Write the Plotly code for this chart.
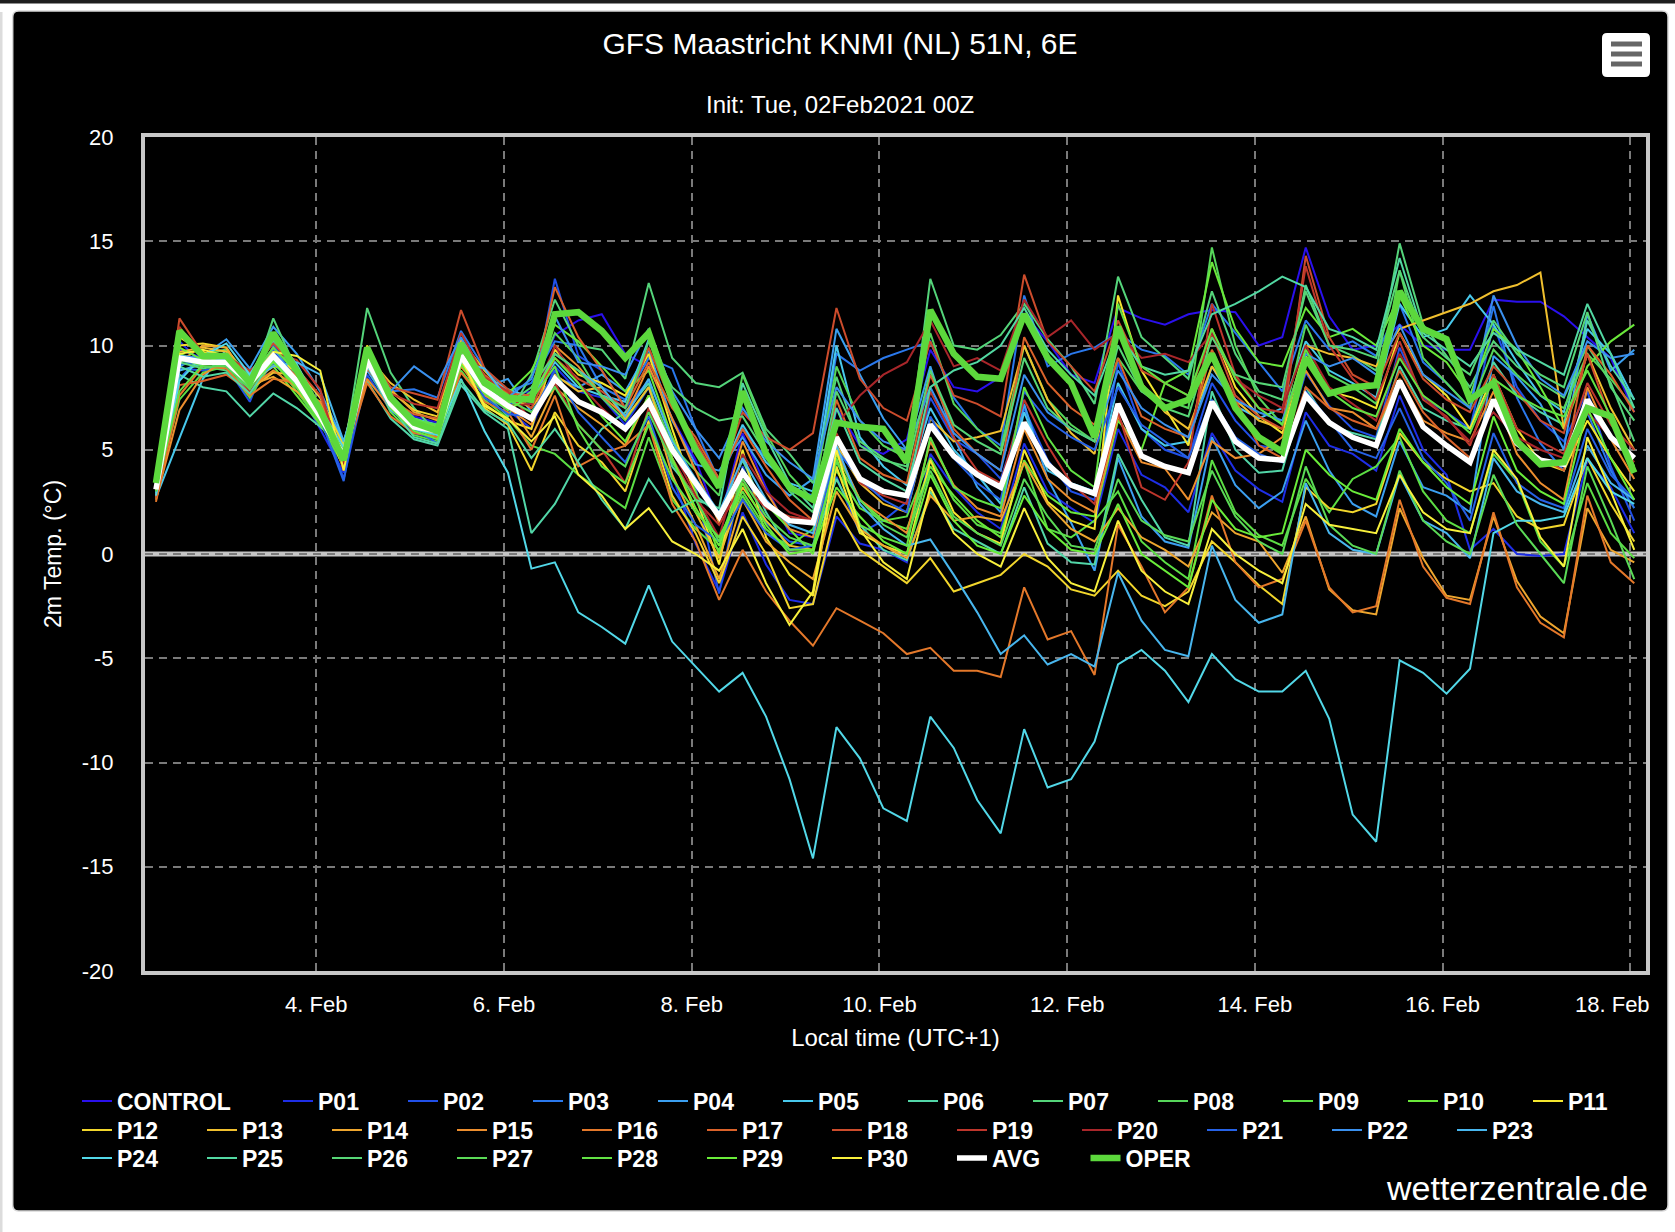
import pandas as pd
import plotly.graph_objects as go

# ---------------- data ----------------
START = "2021-02-02 07:00"
N_STEPS = 64
TICK_DATES = ["2021-02-04", "2021-02-06", "2021-02-08", "2021-02-10",
              "2021-02-12", "2021-02-14", "2021-02-16", "2021-02-18"]
TICK_LABELS = ["4. Feb", "6. Feb", "8. Feb", "10. Feb", "12. Feb", "14. Feb", "16. Feb", "18. Feb"]
Y_TICKS = [-20, -15, -10, -5, 0, 5, 10, 15, 20]
Y_TICK_LABELS = ["-20", "-15", "-10", "-5", "0", "5", "10", "15", "20"]

CONTROL = [3.0, 9.8, 9.4, 9.6, 8.0, 9.8, 8.5, 6.4, 4.3, 9.6, 7.4, 6.6, 6.3, 9.9, 8.3, 7.6,
           7.8, 10.5, 11.2, 11.5, 9.6, 9.0, 6.5, 4.5, 1.5, 5.8, 3.2, 1.0,
           0.8, 7.0, 5.2, 4.8, 5.5, 9.8, 8.0, 7.8, 8.5, 11.5, 10.2, 8.6,
           8.2, 11.8, 11.3, 11.0, 11.5, 11.7, 11.6, 10.0, 10.4, 14.7, 11.4, 9.8,
           10.0, 11.0, 10.0, 9.8, 9.8, 12.2, 12.1, 12.1, 11.4, 10.4, 9.4, 6.8]
P01 = [3.2, 10.2, 9.1, 9.3, 7.6, 9.2, 8.0, 6.0, 3.9, 9.0, 7.0, 5.8, 5.5, 9.2, 7.6, 6.9,
       6.0, 9.0, 7.8, 7.5, 6.2, 8.0, 3.8, 0.5, -1.8, 2.0, -0.5, -2.2,
       -2.4, 1.8, 0.5, 0.2, -0.4, 4.8, 3.2, 2.0, 1.2, 5.3, 3.0, 2.2,
       1.5, 6.0, 3.8, 3.2, 2.0, 5.8, 4.0, 3.1, 2.5, 6.8, 5.2, 4.8,
       4.0, 7.6, 5.0, 3.8, 0.2, 1.2, 0.0, -0.1, 0.0, 4.5, 3.2, 1.0]
P02 = [3.3, 8.9, 8.8, 9.0, 7.3, 10.0, 8.6, 6.8, 3.6, 8.6, 6.9, 6.0, 5.7, 10.3, 8.0, 7.2,
       7.2, 13.2, 9.5, 8.8, 7.0, 8.3, 5.6, 3.2, -1.9, 4.2, 1.5, 0.6,
       0.4, 3.7, 1.0, 1.6, 2.5, 7.5, 5.5, 4.8, 3.6, 7.0, 4.5, 3.0,
       2.6, 9.2, 6.0, 5.0, 4.6, 8.2, 6.4, 5.2, 5.0, 8.7, 7.1, 6.0,
       5.6, 9.9, 7.5, 6.8, 6.0, 11.0, 8.0, 6.4, 5.4, 7.8, 4.2, 1.6]
P03 = [3.0, 8.4, 9.6, 9.5, 8.6, 9.1, 8.2, 7.2, 5.0, 9.5, 7.8, 7.9, 7.5, 10.7, 8.9, 7.8,
       8.2, 10.2, 10.0, 8.0, 7.4, 9.4, 8.9, 6.0, 3.5, 6.0, 4.6, 3.2,
       2.8, 9.6, 8.8, 9.4, 9.8, 10.2, 7.5, 6.0, 5.2, 12.4, 9.0, 9.6,
       9.9, 10.6, 9.8, 9.5, 8.6, 12.0, 10.6, 9.2, 7.8, 11.2, 9.8, 10.2,
       9.5, 12.0, 9.2, 8.2, 7.0, 11.9, 7.5, 5.3, 4.0, 6.8, 4.0, 2.2]
P04 = [2.8, 9.0, 9.5, 10.3, 8.9, 10.9, 9.6, 7.8, 5.4, 8.8, 7.1, 6.3, 6.0, 9.0, 8.0, 8.4,
       6.8, 8.5, 8.0, 8.6, 7.8, 9.8, 6.4, 4.3, 4.0, 5.6, 3.8, 2.8,
       3.6, 10.8, 8.6, 6.5, 5.0, 9.0, 5.6, 3.2, 2.0, 7.2, 3.6, 1.5,
       -0.8, 4.6, 1.8, 0.6, 0.3, 5.6, 3.3, 2.2, 3.0, 6.4, 4.0, 2.4,
       1.8, 5.4, 3.2, 2.8, 2.0, 9.5, 8.5, 7.2, 5.0, 11.5, 8.8, 9.8]
P05 = [2.7, 5.6, 8.4, 9.8, 8.4, 10.2, 8.8, 7.5, 5.3, 9.8, 7.6, 6.5, 6.2, 9.3, 8.5, 7.9,
       7.5, 9.2, 8.0, 7.6, 7.3, 10.3, 7.2, 5.2, 3.6, 6.2, 4.4, 3.4,
       3.0, 10.0, 5.6, 4.2, 3.3, 7.0, 5.0, 3.8, 2.4, 6.8, 4.0, 3.4,
       3.0, 8.2, 6.0, 5.2, 5.4, 9.0, 7.1, 6.5, 7.0, 10.2, 8.8, 8.2,
       7.5, 12.0, 10.4, 10.8, 12.4, 11.0, 9.2, 7.6, 6.8, 10.8, 9.6, 7.4]
P06 = [3.1, 8.6, 8.0, 7.8, 6.6, 7.7, 7.0, 6.1, 5.1, 8.3, 6.5, 5.5, 5.2, 8.1, 6.8, 6.0,
       1.0, 2.4, 4.5, 6.0, 6.8, 8.2, 4.2, 2.8, 1.9, 4.5, 2.0, 0.2,
       0.4, 3.6, 1.4, 0.2, -0.3, 3.0, 1.2, 0.6, 0.0, 3.2, 0.5, -0.4,
       -0.5, 4.8, 2.6, 0.8, 0.4, 7.8, 5.0, 3.9, 4.0, 8.0, 6.2, 5.8,
       5.5, 9.0, 7.0, 6.4, 6.0, 9.2, 7.6, 6.8, 6.2, 11.2, 9.0, 7.4]
P07 = [3.2, 9.3, 9.0, 8.8, 7.9, 11.3, 8.8, 6.8, 4.8, 11.8, 8.7, 7.0, 5.8, 9.8, 7.7, 6.6,
       8.6, 12.2, 10.0, 9.8, 8.4, 13.0, 9.4, 8.2, 8.0, 8.7, 6.0, 4.8,
       3.4, 8.5, 5.2, 4.5, 4.2, 13.2, 10.0, 9.8, 10.5, 12.0, 10.3, 9.0,
       7.2, 13.3, 10.4, 9.4, 8.4, 12.6, 9.6, 7.8, 7.4, 12.9, 10.0, 9.5,
       8.8, 14.9, 11.0, 9.5, 8.0, 10.2, 9.0, 8.2, 7.5, 10.0, 8.2, 5.4]
P08 = [3.4, 10.5, 9.6, 9.8, 8.5, 10.3, 8.4, 6.5, 4.4, 9.7, 7.3, 6.2, 6.0, 9.6, 8.1, 7.0,
       7.8, 10.6, 9.4, 7.5, 6.4, 8.0, 5.2, 4.0, 2.8, 8.6, 5.8, 3.8,
       2.6, 9.0, 6.4, 5.2, 4.6, 10.6, 7.2, 6.0, 5.0, 10.0, 7.4, 6.2,
       5.4, 9.4, 7.8, 7.4, 7.0, 14.7, 10.0, 7.5, 6.2, 11.0, 8.6, 8.0,
       7.2, 13.6, 9.4, 8.2, 7.0, 9.8, 8.6, 7.6, 7.0, 9.6, 8.4, 7.0]
P09 = [3.0, 7.4, 8.7, 9.0, 7.5, 9.3, 7.8, 6.3, 4.2, 9.1, 6.8, 5.7, 5.4, 8.8, 7.4, 6.5,
       5.2, 4.8, 3.8, 3.0, 2.2, 5.6, 2.6, 1.2, 0.2, 2.8, 1.0, 0.4,
       1.2, 4.0, 2.2, 1.6, 1.8, 4.6, 2.6, 1.4, 1.0, 4.4, 1.2, 0.8,
       1.6, 3.0, 0.6, -0.4, -1.2, 4.5, 2.0, 0.9, 0.4, 3.6, 2.0, 3.6,
       4.2, 5.6, 3.0, 1.6, 1.0, 4.8, 3.5, 0.6, -0.6, 3.4, 1.0, -0.2]
P10 = [3.3, 9.6, 9.2, 9.4, 8.3, 9.0, 7.6, 6.2, 4.6, 9.4, 7.1, 6.0, 5.6, 9.6, 8.4, 7.7,
       8.8, 11.0, 10.2, 9.0, 7.8, 8.8, 5.6, 3.0, 0.0, 4.0, 2.4, 1.2,
       0.0, 4.8, 2.6, 1.6, 1.2, 4.2, 2.8, 1.6, 0.8, 4.5, 2.8, 2.0,
       1.8, 6.4, 5.0, 8.2, 8.8, 14.0, 10.8, 9.2, 9.0, 11.8, 10.4, 10.8,
       10.0, 12.4, 10.0, 9.2, 7.6, 10.8, 9.8, 8.0, 6.0, 9.0, 10.2, 11.0]
P11 = [3.2, 10.4, 9.7, 9.2, 8.8, 9.4, 8.8, 7.0, 4.1, 9.8, 7.5, 6.3, 5.9, 9.2, 7.2, 6.4,
       6.0, 9.8, 8.6, 8.2, 7.6, 9.6, 6.0, 2.8, -0.5, 5.0, 0.8, -1.0,
       -2.0, 4.2, 1.0, 0.4, 0.0, 4.5, 2.0, 1.0, 0.5, 5.0, 2.5, 1.6,
       1.2, 12.4, 8.8, 7.0, 5.2, 10.8, 8.0, 6.6, 5.8, 9.5, 7.8, 7.5,
       7.0, 10.6, 8.6, 7.6, 6.0, 8.6, 6.0, 4.4, 4.0, 6.4, 4.6, 3.0]
P12 = [2.9, 10.0, 10.1, 9.9, 8.2, 9.0, 8.9, 7.5, 5.2, 10.0, 7.8, 6.9, 6.6, 9.3, 7.0, 6.2,
       4.0, 6.8, 5.2, 4.4, 3.0, 6.4, 2.8, 1.0, -1.4, 1.8, 0.0, -2.6,
       -2.4, 2.2, 0.2, -0.6, -1.4, -0.2, -1.8, -1.4, -1.0, 0.0, -0.6, -1.7,
       -2.0, -0.8, -2.0, -2.5, -1.8, 0.6, -0.4, -1.5, -2.4, 3.2, 2.2, 2.0,
       2.4, 5.8, 4.4, 3.6, 3.0, 3.4, 1.8, 1.2, 1.4, 4.6, 2.4, 0.6]
P13 = [3.1, 9.7, 9.9, 9.7, 7.9, 8.7, 8.6, 6.9, 4.5, 9.5, 8.2, 7.4, 6.8, 10.3, 8.8, 7.6,
       7.0, 8.6, 7.8, 8.0, 6.5, 8.0, 4.6, 2.0, -0.2, 3.2, 1.6, 0.4,
       0.2, 5.2, 3.4, 2.4, 2.0, 6.5, 5.4, 5.6, 5.9, 10.0, 7.4, 5.8,
       4.8, 10.6, 8.2, 6.8, 6.0, 9.0, 7.4, 6.4, 6.0, 10.0, 9.6, 9.4,
       9.0, 10.8, 11.2, 11.6, 12.0, 12.6, 12.9, 13.5, 6.0, 9.6, 7.0, 5.0]
P14 = [2.8, 9.2, 10.0, 9.9, 8.1, 8.5, 7.8, 6.7, 5.0, 9.2, 7.9, 6.8, 6.4, 9.8, 8.2, 7.3,
       5.6, 8.0, 7.0, 6.2, 5.2, 7.6, 3.8, 1.4, -1.2, 2.6, 0.6, -0.4,
       -1.2, 3.0, 1.2, 0.4, -0.2, 2.8, 1.6, 1.8, 1.6, 4.4, 2.4, 1.2,
       0.6, 2.2, 0.8, 0.2, -0.6, 2.0, 1.0, 0.6, -0.9, 1.8, -1.7, -2.7,
       -2.9, 2.2, -0.2, -2.0, -2.2, 1.8, -1.3, -3.0, -3.8, 2.2, 0.2, -0.4]
P15 = [2.6, 6.9, 8.6, 9.3, 8.0, 8.8, 8.0, 7.3, 4.9, 8.4, 7.0, 6.4, 6.1, 9.0, 7.6, 7.0,
       6.2, 10.0, 9.0, 7.6, 6.6, 9.0, 6.5, 4.0, 1.5, 5.4, 3.0, 1.2,
       0.8, 5.0, 2.6, 1.8, 1.0, 5.4, 3.3, 2.2, 1.8, 6.0, 3.6, 2.6,
       2.0, 6.6, 4.4, 4.1, 2.6, 5.4, 4.6, 4.8, 5.6, 8.8, 7.0, 6.8,
       6.0, 8.4, 6.4, 5.8, 5.4, 7.8, 4.8, 3.4, 2.6, 8.0, 5.5, 3.6]
P16 = [2.5, 7.6, 9.0, 8.9, 7.6, 8.4, 8.2, 6.8, 4.4, 8.2, 6.6, 5.8, 5.6, 8.7, 7.3, 6.8,
       5.0, 7.6, 4.2, 4.8, 5.2, 6.2, 2.4, 0.6, -2.2, 0.2, -1.8, -3.2,
       -4.4, -2.6, -3.2, -3.8, -4.8, -4.5, -5.6, -5.6, -5.9, -1.6, -4.1, -3.7,
       -5.8, 1.4, -0.6, -2.8, -1.6, 2.8, -0.4, -1.6, -1.2, 1.6, -1.6, -2.8,
       -2.5, 2.6, -0.6, -2.1, -2.4, 2.0, -1.6, -3.3, -4.0, 2.8, -0.4, -1.4]
P17 = [2.7, 8.1, 8.3, 8.6, 7.8, 9.6, 8.5, 7.1, 4.6, 8.9, 7.4, 6.7, 6.5, 10.0, 8.6, 7.7,
       7.6, 12.8, 10.4, 8.8, 7.0, 9.2, 7.0, 5.6, 3.6, 6.0, 4.2, 2.6,
       1.6, 7.4, 4.6, 3.8, 3.4, 8.6, 6.0, 4.8, 4.0, 10.4, 8.2, 7.0,
       6.2, 9.4, 6.6, 6.0, 5.6, 9.8, 7.4, 5.2, 4.6, 8.0, 7.0, 6.4,
       6.0, 8.8, 6.8, 5.6, 4.6, 7.2, 5.4, 4.6, 4.0, 10.0, 8.6, 6.8]
P18 = [3.0, 11.3, 9.6, 9.4, 8.7, 10.1, 8.9, 7.6, 4.4, 9.7, 8.0, 7.7, 7.4, 11.7, 8.9, 7.9,
       7.0, 9.4, 8.4, 7.8, 7.0, 9.9, 7.2, 5.4, 3.4, 6.8, 5.6, 5.0,
       5.8, 11.8, 8.4, 7.0, 6.4, 10.2, 7.6, 7.2, 6.6, 13.4, 10.2, 9.0,
       7.8, 11.2, 8.8, 8.2, 7.6, 10.6, 7.6, 6.6, 6.0, 14.3, 10.4, 8.6,
       8.0, 10.6, 8.4, 7.4, 6.8, 9.0, 7.8, 6.4, 5.8, 9.6, 6.4, 4.0]
P19 = [2.9, 10.9, 9.3, 9.5, 8.8, 9.7, 9.3, 7.9, 4.0, 9.9, 7.7, 7.2, 7.0, 10.6, 8.5, 7.8,
       6.4, 8.2, 6.2, 5.0, 3.4, 7.0, 4.6, 2.6, 1.4, 3.4, 2.2, 1.8,
       1.6, 5.8, 3.4, 2.8, 2.4, 7.8, 5.6, 4.0, 3.4, 7.4, 5.2, 3.4,
       2.4, 6.8, 3.2, 2.6, 4.4, 12.0, 8.6, 7.0, 6.8, 13.8, 10.0, 8.4,
       7.4, 10.2, 7.4, 6.6, 5.2, 8.6, 6.0, 5.4, 4.8, 8.2, 6.2, 5.0]
P20 = [3.1, 10.6, 9.4, 9.3, 7.8, 9.5, 8.1, 6.6, 4.3, 9.4, 7.3, 6.1, 5.7, 9.7, 7.8, 7.1,
       7.2, 10.0, 8.2, 7.0, 6.0, 7.4, 5.0, 2.8, 0.8, 4.8, 3.0, 2.0,
       1.6, 6.2, 7.6, 8.6, 9.2, 11.2, 9.0, 9.4, 8.8, 12.2, 10.4, 11.2,
       9.8, 10.6, 9.4, 9.6, 9.2, 10.6, 8.4, 7.6, 7.0, 10.0, 8.0, 7.2,
       6.4, 9.6, 7.6, 6.5, 5.4, 6.8, 5.6, 5.0, 4.6, 6.8, 5.6, 4.4]
P21 = [3.0, 9.1, 9.2, 9.0, 8.0, 9.7, 8.2, 6.5, 3.5, 9.6, 7.2, 6.0, 5.3, 9.4, 7.5, 6.7,
       6.6, 8.8, 6.8, 5.6, 4.4, 6.6, 3.2, 1.4, 0.6, 2.6, 1.0, 0.2,
       0.4, 5.0, 3.6, 2.6, 2.0, 6.6, 4.6, 3.4, 2.6, 7.8, 6.4, 5.6,
       5.0, 8.0, 6.2, 5.4, 4.6, 7.4, 5.6, 4.8, 4.4, 7.8, 6.4, 5.0,
       4.6, 7.0, 4.6, 3.4, 1.6, 5.8, 3.4, 2.6, 2.2, 6.0, 3.8, 2.6]
P22 = [3.2, 9.5, 9.4, 9.3, 8.2, 9.9, 8.3, 7.0, 4.7, 9.7, 7.8, 9.0, 8.2, 10.4, 8.3, 7.5,
       8.4, 11.4, 9.2, 9.0, 8.6, 10.8, 7.8, 6.0, 4.6, 7.0, 5.4, 4.4,
       3.6, 8.0, 6.4, 5.4, 5.0, 8.0, 5.8, 4.8, 4.0, 8.6, 6.8, 6.0,
       5.4, 8.8, 7.0, 6.2, 5.6, 8.6, 7.4, 6.8, 6.4, 9.6, 9.0, 9.4,
       8.6, 11.0, 8.6, 7.8, 7.0, 12.4, 10.0, 8.4, 7.6, 10.2, 9.4, 9.6]
P23 = [2.9, 8.8, 9.1, 9.4, 8.3, 9.0, 9.2, 8.6, 5.4, 9.1, 6.9, 6.1, 6.0, 9.2, 8.9, 7.4,
       7.4, 9.6, 8.8, 8.0, 6.6, 8.4, 5.4, 3.6, 2.0, 4.6, 2.6, 1.4,
       1.0, 5.2, 2.4, 1.2, 0.4, 0.7, -1.0, -2.8, -4.8, -3.9, -5.3, -4.8,
       -5.4, -0.9, -3.2, -4.6, -4.9, 0.4, -2.2, -3.3, -2.9, 3.4, 1.0, 0.2,
       0.0, 3.8, 1.6, 1.0, -0.2, 4.6, 3.0, 2.4, 2.0, 5.2, 3.4, 2.6]
P24 = [2.8, 8.3, 9.5, 10.1, 8.6, 10.5, 9.1, 7.0, 5.1, 9.0, 7.3, 6.0, 5.7, 8.4, 5.9, 3.9,
       -0.7, -0.4, -2.8, -3.5, -4.3, -1.5, -4.2, -5.4, -6.6, -5.7, -7.8, -10.8,
       -14.6, -8.3, -9.8, -12.2, -12.8, -7.8, -9.3, -11.8, -13.4, -8.4, -11.2, -10.8,
       -9.0, -5.3, -4.6, -5.6, -7.1, -4.8, -6.0, -6.6, -6.6, -5.6, -7.9, -12.5,
       -13.8, -5.1, -5.7, -6.7, -5.5, 1.0, 1.6, 1.6, 1.8, 4.6, 3.0, 2.4]
P25 = [3.1, 9.0, 8.5, 8.7, 7.7, 9.4, 8.0, 6.5, 4.9, 9.1, 7.1, 5.6, 5.3, 8.3, 6.9, 6.3,
       4.6, 6.0, 4.4, 2.6, 1.2, 3.6, 2.0, 2.6, 2.2, 8.2, 5.6, 3.4,
       2.2, 7.0, 4.4, 3.6, 3.0, 8.0, 8.8, 9.2, 10.0, 11.8, 9.8, 8.6,
       7.6, 10.6, 9.0, 8.6, 8.8, 11.5, 12.0, 12.6, 13.3, 12.8, 10.8, 10.4,
       9.8, 14.2, 10.6, 9.8, 9.0, 10.6, 9.8, 9.2, 8.6, 12.0, 9.6, 7.0]
P26 = [3.3, 9.2, 8.9, 9.1, 8.0, 9.5, 8.1, 6.6, 4.8, 9.3, 7.2, 6.2, 5.9, 9.5, 7.9, 7.2,
       8.0, 9.6, 8.8, 7.6, 7.0, 10.2, 8.0, 7.0, 6.4, 6.6, 4.8, 3.0,
       2.0, 7.8, 5.4, 4.6, 4.0, 8.8, 6.2, 5.4, 4.8, 9.4, 7.0, 6.0,
       5.4, 10.0, 7.8, 7.0, 6.6, 10.4, 8.6, 8.2, 8.0, 12.6, 10.0, 9.8,
       9.4, 13.6, 10.4, 9.4, 8.6, 11.2, 9.6, 8.6, 8.0, 11.6, 8.0, 6.4]
P27 = [3.2, 9.4, 9.0, 9.0, 7.9, 9.6, 8.3, 6.7, 4.6, 9.4, 7.4, 6.4, 6.2, 9.7, 8.0, 7.4,
       6.8, 8.0, 6.2, 5.0, 4.2, 6.8, 4.4, 2.6, 0.6, 3.6, 1.8, 0.8,
       0.4, 4.4, 2.6, 1.4, 0.8, 4.0, 1.8, 1.0, 0.4, 3.6, 1.8, 0.4,
       0.2, 3.6, 1.6, 0.9, 0.6, 4.0, 1.8, 0.6, 0.0, 4.2, 1.4, 0.4,
       0.0, 4.0, 1.6, 0.6, 0.0, 3.8, 1.4, 0.0, -1.4, 4.2, 1.6, -1.2]
P28 = [3.0, 7.8, 9.1, 9.6, 8.4, 9.9, 8.7, 6.9, 4.9, 9.6, 7.6, 6.5, 6.1, 9.9, 8.2, 7.3,
       7.4, 9.0, 6.0, 4.2, 3.4, 6.2, 3.6, 2.0, 0.8, 3.0, 1.2, 0.2,
       0.2, 4.6, 1.4, 0.8, 0.4, 5.6, 3.2, 2.6, 2.2, 8.0, 5.6, 4.0,
       3.2, 12.0, 9.0, 8.2, 7.6, 10.8, 8.4, 7.0, 6.2, 9.8, 7.8, 7.0,
       6.6, 9.4, 7.6, 6.8, 5.8, 8.4, 7.6, 7.0, 6.6, 8.8, 6.6, 4.2]
P29 = [3.4, 9.9, 9.3, 9.2, 8.1, 9.2, 8.0, 6.4, 4.5, 9.2, 7.0, 5.9, 5.5, 9.1, 7.7, 6.9,
       7.6, 9.4, 8.2, 6.6, 5.4, 7.6, 4.6, 2.2, 0.4, 3.4, 1.4, 0.0,
       0.2, 3.2, 1.8, 0.6, 0.0, 3.8, 1.6, 0.4, 0.0, 2.8, 1.2, 0.2,
       0.0, 2.4, 0.0, -0.8, -1.6, 2.6, 1.2, 0.8, 1.0, 5.0, 3.8, 3.0,
       2.6, 6.0, 4.4, 3.2, 2.4, 6.6, 4.0, 3.0, 2.4, 7.0, 4.6, 2.6]
P30 = [3.1, 9.6, 9.8, 9.5, 8.3, 9.7, 9.5, 8.8, 4.0, 9.6, 7.3, 6.2, 6.0, 9.4, 7.1, 6.5,
       5.4, 6.6, 3.8, 2.8, 1.2, 2.2, 0.6, 0.0, -0.8, 1.2, -1.4, -3.4,
       -1.8, 5.0, 1.2, -0.4, -1.2, 3.2, 1.0, 0.0, -0.6, 2.2, -0.2, -1.4,
       -1.8, 1.6, -0.8, -1.8, -2.4, 1.2, 0.0, -0.8, -1.4, 2.4, 1.4, 1.2,
       1.0, 3.8, 2.0, 1.2, 1.0, 5.0, 3.6, 0.8, -0.6, 5.6, 3.0, 0.2]
AVG = [3.1, 9.4, 9.2, 9.2, 8.2, 9.5, 8.3, 6.6, 4.7, 9.3, 7.2, 6.1, 5.9, 9.5, 7.9, 7.1,
       6.5, 8.4, 7.3, 6.8, 6.0, 7.3, 5.0, 3.4, 1.8, 3.9, 2.4, 1.6,
       1.5, 5.6, 3.6, 3.0, 2.8, 6.2, 4.7, 3.8, 3.2, 6.3, 4.3, 3.3,
       2.9, 7.2, 4.7, 4.2, 3.9, 7.3, 5.4, 4.6, 4.5, 7.6, 6.3, 5.6,
       5.2, 8.3, 6.1, 5.2, 4.4, 7.4, 5.3, 4.5, 4.3, 7.4, 5.6, 4.6]
OPER = [3.4, 10.7, 9.5, 9.5, 8.2, 10.6, 8.8, 6.9, 4.5, 9.9, 7.5, 6.3, 5.9, 10.1, 8.2, 7.5,
        7.4, 11.5, 11.6, 10.7, 9.4, 10.6, 7.4, 5.0, 3.2, 7.8, 4.8, 3.2,
        2.6, 6.3, 6.1, 6.0, 4.4, 11.7, 9.6, 8.5, 8.4, 11.5, 9.4, 8.2,
        5.6, 10.9, 8.0, 7.0, 7.4, 9.6, 7.0, 5.6, 4.9, 9.4, 7.7, 8.0,
        8.1, 12.6, 10.8, 10.3, 7.4, 8.2, 5.4, 4.3, 4.4, 7.0, 6.6, 3.9]

SERIES_NAMES = ["CONTROL"] + ["P%02d" % i for i in range(1, 31)] + ["AVG", "OPER"]
SERIES_VALUES = [CONTROL, P01, P02, P03, P04, P05, P06, P07, P08, P09, P10,
                 P11, P12, P13, P14, P15, P16, P17, P18, P19, P20,
                 P21, P22, P23, P24, P25, P26, P27, P28, P29, P30, AVG, OPER]
SERIES_COLORS = ["#2a10ec", "#1e2ee6", "#2150e8", "#2a78ec", "#3b9ff0", "#48c8ec",
                 "#52d6a8", "#54d47a", "#56d65a", "#5cde44", "#6ae83a",
                 "#f4e62e", "#f2d62c", "#f0bf2e", "#eea62e", "#ec8e2e", "#e4782a",
                 "#da622a", "#cc4c2c", "#be362c", "#a8262a",
                 "#2662e6", "#3a90ee", "#48b6ee", "#52d8e8", "#52d8a2", "#56d676",
                 "#5ada56", "#62e244", "#6aec3a", "#f8f03c", "#ffffff", "#5cd83c"]

for nm, vals in zip(SERIES_NAMES, SERIES_VALUES):
    assert len(vals) == N_STEPS, (nm, len(vals))

times = pd.date_range(START, periods=N_STEPS, freq="6h")

# the last date label sits pulled inside the chart (as in the original): drawn as an annotation
tick_text = TICK_LABELS[:-1] + [""]

# ---------------- layout geometry (px) ----------------
W, H = 1675, 1232
ML, MR, MT, MB = 145, 29, 137, 261
PW, PH = W - ML - MR, H - MT - MB


def px(xp):
    return (xp - ML) / PW


def py(yp):
    return (H - MB - yp) / PH


FONT = "Liberation Sans, Arial, Helvetica, sans-serif"

fig = go.Figure()

row_of = {}
for i, nm in enumerate(SERIES_NAMES):
    if i <= 11:
        row_of[nm] = "legend"
    elif i <= 23:
        row_of[nm] = "legend2"
    else:
        row_of[nm] = "legend3"

for nm, vals, col in zip(SERIES_NAMES, SERIES_VALUES, SERIES_COLORS):
    if nm == "AVG":
        lw, lgw = 5.5, 88.5
    elif nm == "OPER":
        lw, lgw = 6.5, 80
    elif nm == "CONTROL":
        lw, lgw = 2, 156
    else:
        lw, lgw = 2, 80
    fig.add_trace(go.Scatter(
        x=times, y=vals, name=nm, mode="lines",
        line=dict(color=col, width=lw),
        legend=row_of[nm], legendwidth=lgw, hoverinfo="skip",
    ))

legend_common = dict(orientation="h", xref="paper", yref="paper", xanchor="left",
                     yanchor="middle", bgcolor="rgba(0,0,0,0)", borderwidth=0,
                     font=dict(family=FONT, size=23, color="white", weight="bold"),
                     itemclick=False, itemdoubleclick=False, tracegroupgap=0)
LEG_X = px(77)

shapes = [
    dict(type="rect", xref="paper", yref="paper", x0=px(0), x1=px(W), y0=py(3.5), y1=py(0),
         fillcolor="#1e1e1e", line=dict(width=0), layer="below"),
    dict(type="rect", xref="paper", yref="paper", x0=px(0), x1=px(2.5), y0=py(H), y1=py(12),
         fillcolor="#dcdcdc", line=dict(width=0), layer="below"),
]
bx0, bx1, by0, by1 = px(12.7), px(1668), py(1211), py(11)
rx, ry = 6 / PW, 6 / PH
box_path = (f"M{bx0+rx},{by0} L{bx1-rx},{by0} Q{bx1},{by0} {bx1},{by0+ry} "
            f"L{bx1},{by1-ry} Q{bx1},{by1} {bx1-rx},{by1} L{bx0+rx},{by1} "
            f"Q{bx0},{by1} {bx0},{by1-ry} L{bx0},{by0+ry} Q{bx0},{by0} {bx0+rx},{by0} Z")
shapes.append(dict(type="path", xref="paper", yref="paper", path=box_path,
                   fillcolor="#000000", line=dict(color="#d8d8d8", width=1.5), layer="below"))
shapes.append(dict(type="line", xref="x domain", yref="y", x0=0, x1=1, y0=0, y1=0,
                   line=dict(color="#c4c4c4", width=5), layer="below"))
mx0, mx1, my0, my1 = px(1602), px(1650), py(77), py(33)
mrx, mry = 5 / PW, 5 / PH
menu_path = (f"M{mx0+mrx},{my0} L{mx1-mrx},{my0} Q{mx1},{my0} {mx1},{my0+mry} "
             f"L{mx1},{my1-mry} Q{mx1},{my1} {mx1-mrx},{my1} L{mx0+mrx},{my1} "
             f"Q{mx0},{my1} {mx0},{my1-mry} L{mx0},{my0+mry} Q{mx0},{my0} {mx0+mrx},{my0} Z")
shapes.append(dict(type="path", xref="paper", yref="paper", path=menu_path,
                   fillcolor="#ffffff", line=dict(width=0), layer="above"))
for yy in (44, 54, 64):
    shapes.append(dict(type="line", xref="paper", yref="paper", x0=px(1611), x1=px(1642),
                       y0=py(yy), y1=py(yy), line=dict(color="#666666", width=5), layer="above"))

fig.update_layout(
    width=W, height=H,
    margin=dict(l=ML, r=MR, t=MT, b=MB, autoexpand=False),
    paper_bgcolor="#ffffff", plot_bgcolor="#000000",
    font=dict(family=FONT, color="white"),
    showlegend=True,
    title=dict(text="GFS Maastricht KNMI (NL) 51N, 6E", xref="container", yref="container",
               x=840 / W, y=1 - 43 / H, xanchor="center", yanchor="middle",
               font=dict(family=FONT, size=30, color="white")),
    legend=dict(legend_common, x=LEG_X, y=py(1101)),
    legend2=dict(legend_common, x=LEG_X, y=py(1130)),
    legend3=dict(legend_common, x=LEG_X, y=py(1158)),
    shapes=shapes,
    annotations=[
        dict(text="Init: Tue, 02Feb2021 00Z", xref="paper", yref="paper", x=px(840), y=py(104),
             xanchor="center", yanchor="middle", showarrow=False,
             font=dict(family=FONT, size=24, color="white")),
        dict(text="wetterzentrale.de", xref="paper", yref="paper", x=px(1650), y=py(1188),
             xanchor="right", yanchor="middle", showarrow=False,
             font=dict(family=FONT, size=34, color="white")),
        dict(text=TICK_LABELS[-1], xref="x", yref="paper", x=TICK_DATES[-1], y=py(1004),
             xanchor="center", yanchor="middle", xshift=-18, showarrow=False,
             font=dict(family=FONT, size=22, color="white")),
    ],
    xaxis=dict(
        type="date", range=["2021-02-02 04:12", "2021-02-18 04:00"],
        tickvals=TICK_DATES, ticktext=tick_text, ticks="",
        tickfont=dict(family=FONT, size=22, color="white"), ticklabelstandoff=11,
        showgrid=True, gridcolor="#7a7a7a", gridwidth=1.5, griddash="8px,6px",
        showline=True, linecolor="#c8c8c8", linewidth=4, mirror=True, zeroline=False,
        title=dict(text="Local time (UTC+1)", font=dict(family=FONT, size=24, color="white"),
                   standoff=14),
        automargin=False, fixedrange=True,
    ),
    yaxis=dict(
        range=[-20, 20], tickvals=Y_TICKS, ticktext=Y_TICK_LABELS, ticks="",
        tickfont=dict(family=FONT, size=22, color="white"), ticklabelstandoff=23,
        showgrid=True, gridcolor="#7a7a7a", gridwidth=1.5, griddash="8px,6px",
        showline=True, linecolor="#c8c8c8", linewidth=4, mirror=True, zeroline=False,
        title=dict(text="2m Temp. (°C)", font=dict(family=FONT, size=23, color="white"),
                   standoff=15),
        automargin=False, fixedrange=True,
    ),
)

fig.write_html("out.html", config={"displayModeBar": False},
               post_script="document.body.style.margin='0px';document.body.style.overflow='hidden';")
